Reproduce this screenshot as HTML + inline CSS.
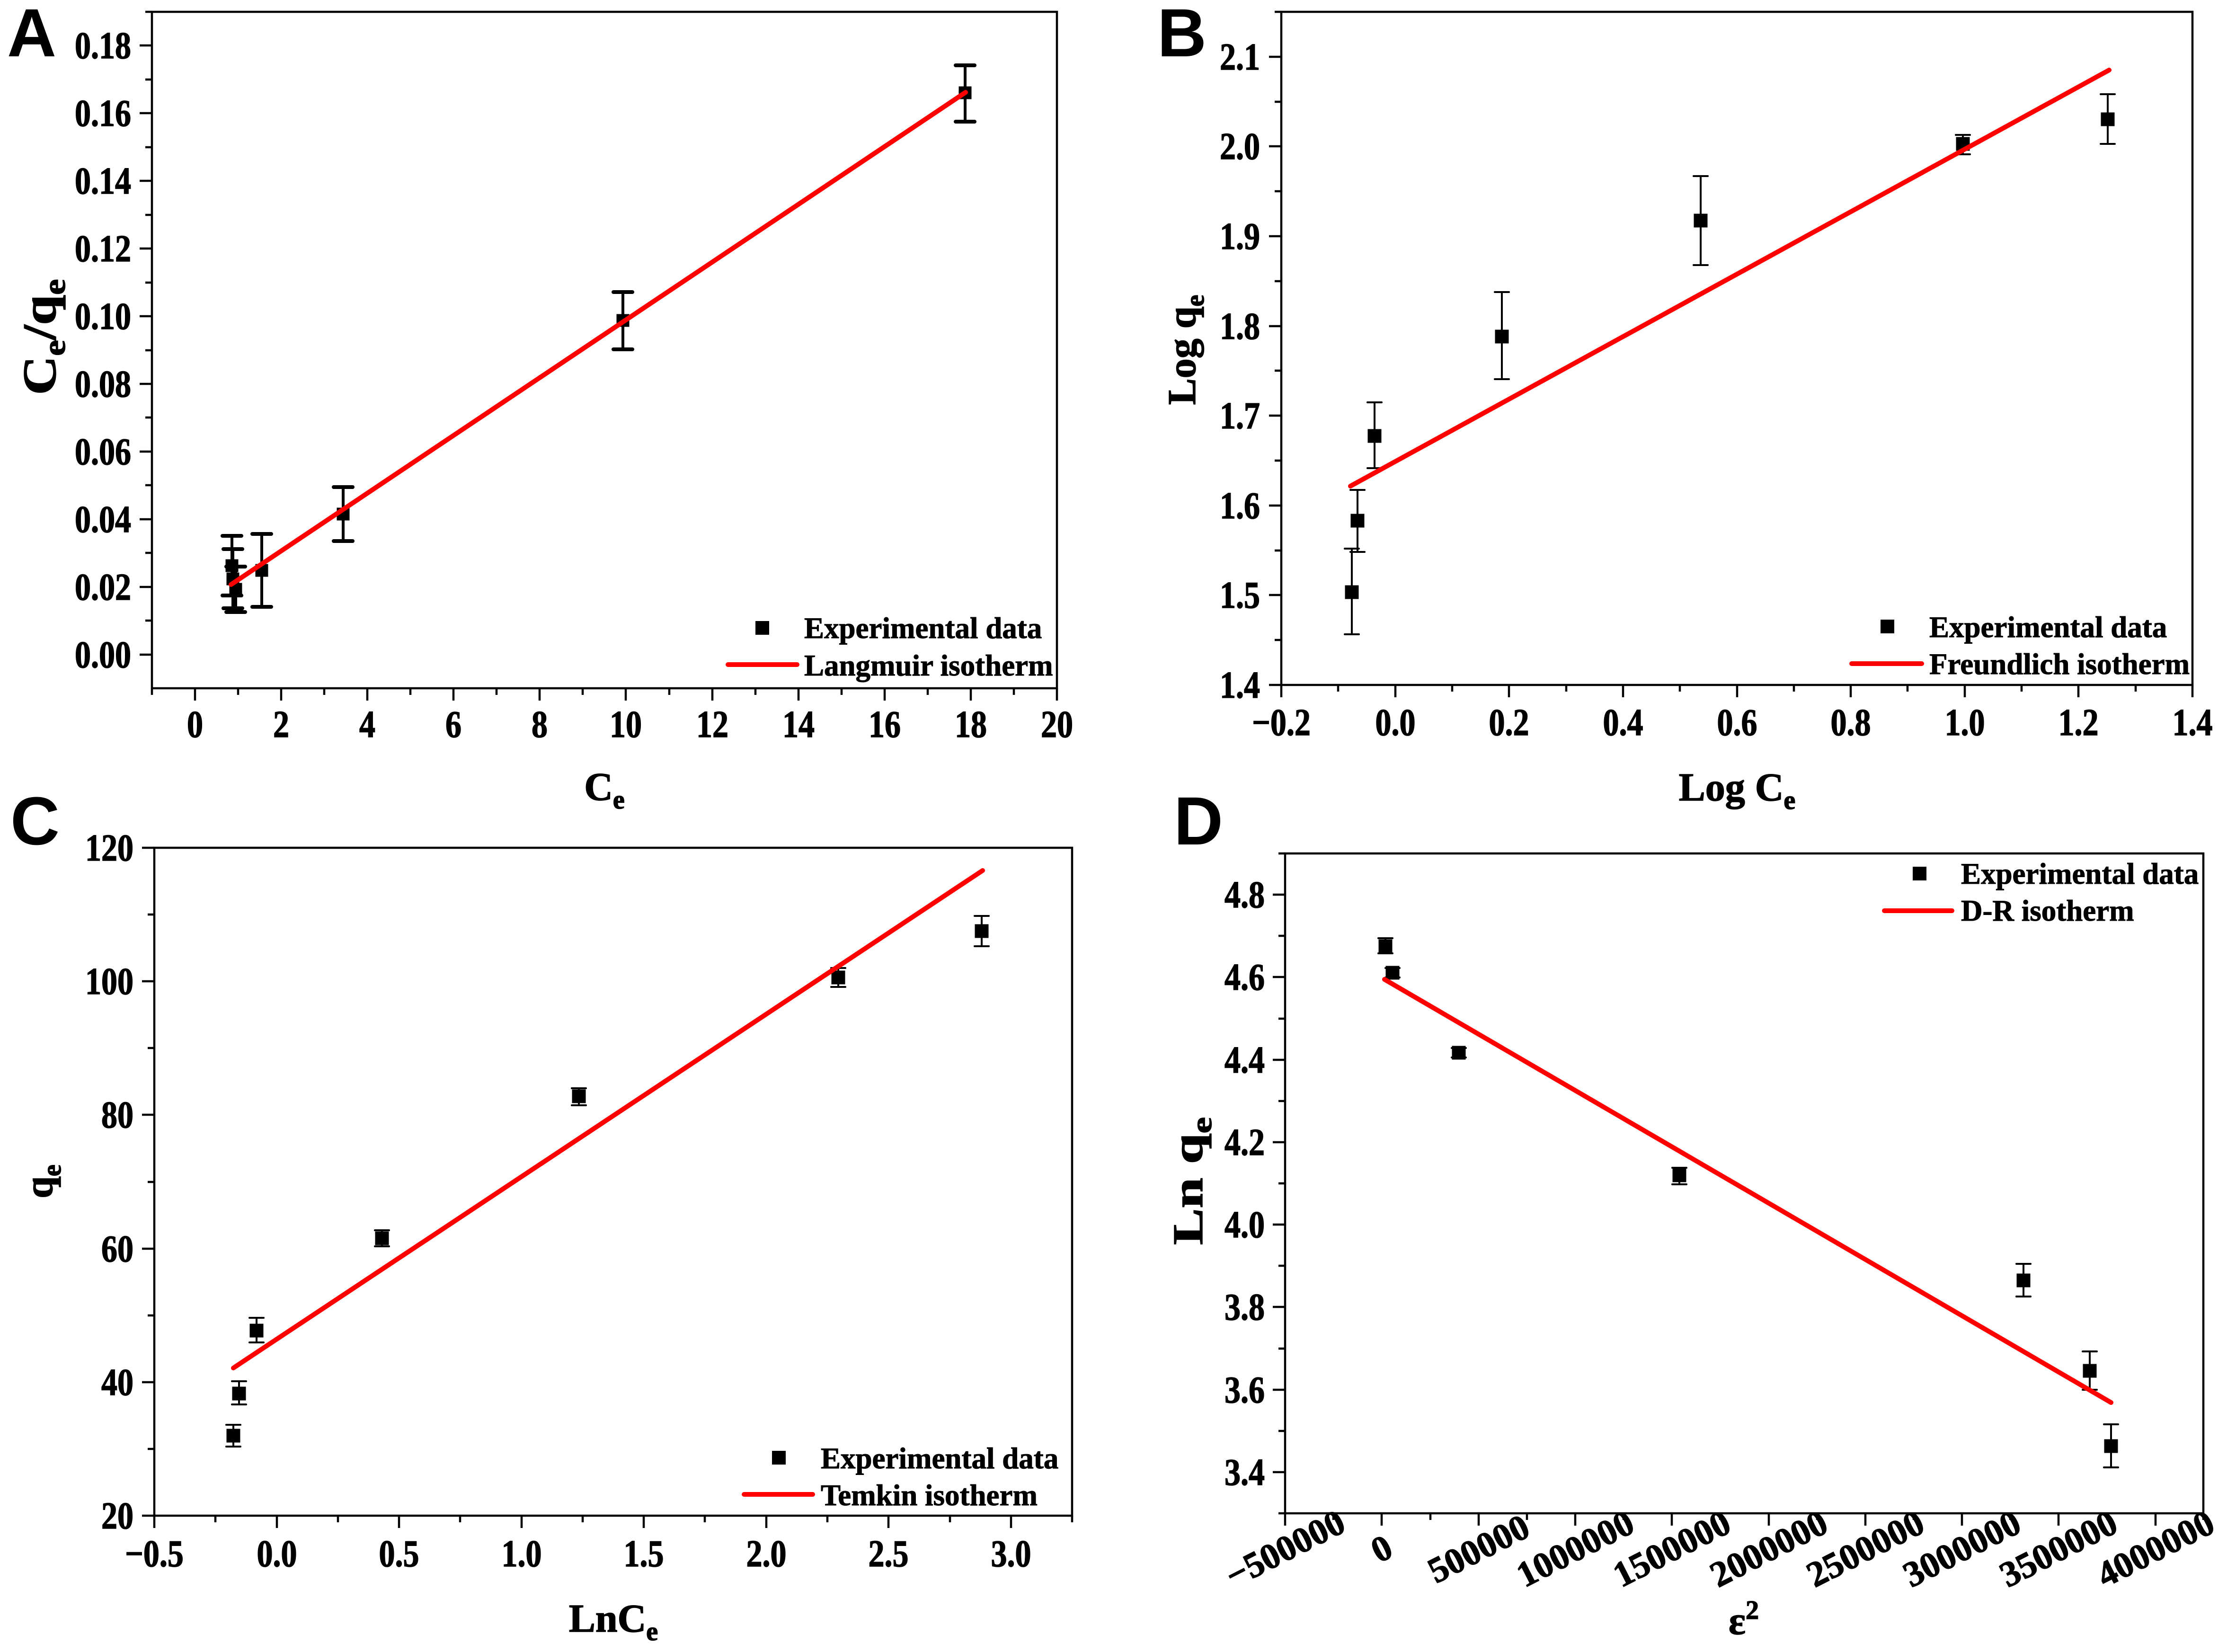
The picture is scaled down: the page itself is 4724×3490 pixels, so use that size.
<!DOCTYPE html>
<html>
<head>
<meta charset="utf-8">
<style>
html,body{margin:0;padding:0;background:#fff;}
svg{display:block;}
text{font-family:"Liberation Serif",serif;font-weight:bold;fill:#000;}
.pl{font-family:"Liberation Sans",sans-serif;font-weight:bold;font-size:144px;}
.xl{font-size:80px;text-anchor:middle;transform-box:fill-box;transform-origin:center;transform:scaleX(0.85);stroke:#000;stroke-width:1.5px;}
.yl{font-size:80px;text-anchor:end;transform-box:fill-box;transform-origin:right;transform:scaleX(0.85);stroke:#000;stroke-width:1.5px;}
.rl{font-size:76px;text-anchor:middle;dominant-baseline:central;stroke:#000;stroke-width:1.5px;}
.lg{font-size:63px;stroke:#000;stroke-width:1px;}
.at{font-size:84px;stroke:#000;stroke-width:1.5px;}
</style>
</head>
<body>
<svg width="4724" height="3490" viewBox="0 0 4724 3490" xmlns="http://www.w3.org/2000/svg">
<rect x="0" y="0" width="4724" height="3490" fill="#fff"/>

<!-- Panel labels -->
<text class="pl" x="15" y="119">A</text>
<text class="pl" x="2445" y="119">B</text>
<text class="pl" x="22" y="1784">C</text>
<text class="pl" x="2480" y="1784">D</text>

<!-- ================= PANEL A ================= -->
<g fill="none" stroke="#000" stroke-width="4.5">
<rect x="321" y="25" width="1912" height="1429"/>
<path d="M295 1383H321M295 1240H321M295 1097H321M295 954H321M295 811H321M295 668H321M295 525H321M295 382H321M295 239H321M295 96H321
M307 1311H321M307 1168H321M307 1025H321M307 882H321M307 740H321M307 597H321M307 454H321M307 311H321M307 168H321M307 25H321
M412 1454V1480M594 1454V1480M776 1454V1480M958 1454V1480M1140 1454V1480M1322 1454V1480M1505 1454V1480M1687 1454V1480M1869 1454V1480M2051 1454V1480M2233 1454V1480
M321 1454V1468M503 1454V1468M685 1454V1468M867 1454V1468M1049 1454V1468M1231 1454V1468M1414 1454V1468M1596 1454V1468M1778 1454V1468M1960 1454V1468M2142 1454V1468"/>
</g>
<text class="yl" x="277" y="123">0.18</text>
<text class="yl" x="277" y="266">0.16</text>
<text class="yl" x="277" y="409">0.14</text>
<text class="yl" x="277" y="552">0.12</text>
<text class="yl" x="277" y="695">0.10</text>
<text class="yl" x="277" y="838">0.08</text>
<text class="yl" x="277" y="981">0.06</text>
<text class="yl" x="277" y="1124">0.04</text>
<text class="yl" x="277" y="1267">0.02</text>
<text class="yl" x="277" y="1410">0.00</text>
<text class="xl" x="412" y="1557">0</text>
<text class="xl" x="594" y="1557">2</text>
<text class="xl" x="776" y="1557">4</text>
<text class="xl" x="958" y="1557">6</text>
<text class="xl" x="1140" y="1557">8</text>
<text class="xl" x="1322" y="1557">10</text>
<text class="xl" x="1505" y="1557">12</text>
<text class="xl" x="1687" y="1557">14</text>
<text class="xl" x="1869" y="1557">16</text>
<text class="xl" x="2051" y="1557">18</text>
<text class="xl" x="2233" y="1557">20</text>
<!-- axis titles A -->
<text class="at" x="1277" y="1690" text-anchor="middle">C<tspan font-size="56" dy="18">e</tspan></text>
<text font-size="100" stroke="#000" stroke-width="1.5" transform="translate(117,712) rotate(-90)" text-anchor="middle" textLength="245" lengthAdjust="spacingAndGlyphs">C<tspan font-size="66" dy="20">e</tspan><tspan dy="-20">/q</tspan><tspan font-size="66" dy="20">e</tspan></text>
<!-- error bars A -->
<g fill="none" stroke="#000" stroke-linecap="round">
<path stroke-width="6" d="M490 1132V1258M492 1160V1285M498 1197V1293M553 1128V1282M725 1029V1143M1316 617V738M2039 138V257"/>
<path stroke-width="8" d="M470 1132H510M470 1258H510
M472 1160H512M472 1285H512
M478 1197H518M478 1293H518
M533 1128H573M533 1282H573
M705 1029H745M705 1143H745
M1296 617H1336M1296 738H1336
M2019 138H2059M2019 257H2059"/>
</g>
<g fill="#000">
<rect x="476.5" y="1181.5" width="27" height="27"/>
<rect x="478.5" y="1209.5" width="27" height="27"/>
<rect x="484.5" y="1231.5" width="27" height="27"/>
<rect x="539.5" y="1191.5" width="27" height="27"/>
<rect x="711.5" y="1072.5" width="27" height="27"/>
<rect x="1302.5" y="663.5" width="27" height="27"/>
<rect x="2025.5" y="182.5" width="27" height="27"/>
</g>
<line x1="488" y1="1235" x2="2040" y2="195" stroke="#ff0000" stroke-width="10" stroke-linecap="round"/>
<!-- legend A -->
<rect x="1596" y="1312" width="29" height="29" fill="#000"/>
<text class="lg" x="1699" y="1348">Experimental data</text>
<line x1="1538" y1="1404" x2="1684" y2="1404" stroke="#ff0000" stroke-width="10" stroke-linecap="round"/>
<text class="lg" x="1699" y="1427">Langmuir isotherm</text>

<!-- ================= PANEL B ================= -->
<g fill="none" stroke="#000" stroke-width="4.5">
<rect x="2707" y="25" width="1925" height="1422"/>
<path d="M2681 1447H2707M2681 1257H2707M2681 1068H2707M2681 878H2707M2681 689H2707M2681 499H2707M2681 309H2707M2681 120H2707
M2693 1352H2707M2693 1163H2707M2693 973H2707M2693 783H2707M2693 594H2707M2693 404H2707M2693 215H2707M2693 25H2707
M2707 1447V1473M2948 1447V1473M3188 1447V1473M3429 1447V1473M3670 1447V1473M3910 1447V1473M4151 1447V1473M4391 1447V1473M4632 1447V1473
M2827 1447V1461M3068 1447V1461M3309 1447V1461M3549 1447V1461M3790 1447V1461M4030 1447V1461M4271 1447V1461M4512 1447V1461"/>
</g>
<text class="yl" x="2662" y="147">2.1</text>
<text class="yl" x="2662" y="336">2.0</text>
<text class="yl" x="2662" y="526">1.9</text>
<text class="yl" x="2662" y="716">1.8</text>
<text class="yl" x="2662" y="905">1.7</text>
<text class="yl" x="2662" y="1095">1.6</text>
<text class="yl" x="2662" y="1284">1.5</text>
<text class="yl" x="2662" y="1474">1.4</text>
<text class="xl" x="2707" y="1553">−0.2</text>
<text class="xl" x="2948" y="1553">0.0</text>
<text class="xl" x="3188" y="1553">0.2</text>
<text class="xl" x="3429" y="1553">0.4</text>
<text class="xl" x="3670" y="1553">0.6</text>
<text class="xl" x="3910" y="1553">0.8</text>
<text class="xl" x="4151" y="1553">1.0</text>
<text class="xl" x="4391" y="1553">1.2</text>
<text class="xl" x="4632" y="1553">1.4</text>
<text class="at" x="3670" y="1691" text-anchor="middle">Log C<tspan font-size="56" dy="18">e</tspan></text>
<text class="at" transform="translate(2525,739) rotate(-90)" text-anchor="middle">Log q<tspan font-size="56" dy="18">e</tspan></text>
<g fill="none" stroke="#000" stroke-width="4" stroke-linecap="round">
<path d="M2856 1159V1340M2841 1159H2871M2841 1340H2871
M2868 1035V1166M2853 1035H2883M2853 1166H2883
M2904 850V989M2889 850H2919M2889 989H2919
M3173 617V801M3158 617H3188M3158 801H3188
M3593 372V560M3578 372H3608M3578 560H3608
M4147 285V326M4132 285H4162M4132 326H4162
M4453 199V304M4438 199H4468M4438 304H4468"/>
</g>
<g fill="#000">
<rect x="2841.5" y="1236.5" width="29" height="29"/>
<rect x="2853.5" y="1085.5" width="29" height="29"/>
<rect x="2889.5" y="906.5" width="29" height="29"/>
<rect x="3158.5" y="696.5" width="29" height="29"/>
<rect x="3578.5" y="451.5" width="29" height="29"/>
<rect x="4132.5" y="289.5" width="29" height="29"/>
<rect x="4438.5" y="237.5" width="29" height="29"/>
</g>
<line x1="2853" y1="1027" x2="4456" y2="148" stroke="#ff0000" stroke-width="10" stroke-linecap="round"/>
<rect x="3973" y="1309" width="29" height="29" fill="#000"/>
<text class="lg" x="4076" y="1346">Experimental data</text>
<line x1="3912" y1="1402" x2="4060" y2="1402" stroke="#ff0000" stroke-width="10" stroke-linecap="round"/>
<text class="lg" x="4076" y="1424">Freundlich isotherm</text>

<!-- ================= PANEL C ================= -->
<g fill="none" stroke="#000" stroke-width="4.5">
<rect x="326" y="1791" width="1939" height="1411"/>
<path d="M300 3202H326M300 2920H326M300 2638H326M300 2355H326M300 2073H326M300 1791H326
M312 3061H326M312 2779H326M312 2497H326M312 2214H326M312 1932H326
M326 3202V3228M585 3202V3228M843 3202V3228M1102 3202V3228M1360 3202V3228M1619 3202V3228M1877 3202V3228M2136 3202V3228
M455 3202V3216M714 3202V3216M972 3202V3216M1231 3202V3216M1489 3202V3216M1748 3202V3216M2007 3202V3216M2265 3202V3216"/>
</g>
<text class="yl" x="282" y="1818">120</text>
<text class="yl" x="282" y="2100">100</text>
<text class="yl" x="282" y="2382">80</text>
<text class="yl" x="282" y="2665">60</text>
<text class="yl" x="282" y="2947">40</text>
<text class="yl" x="282" y="3229">20</text>
<text class="xl" x="326" y="3309">−0.5</text>
<text class="xl" x="585" y="3309">0.0</text>
<text class="xl" x="843" y="3309">0.5</text>
<text class="xl" x="1102" y="3309">1.0</text>
<text class="xl" x="1360" y="3309">1.5</text>
<text class="xl" x="1619" y="3309">2.0</text>
<text class="xl" x="1877" y="3309">2.5</text>
<text class="xl" x="2136" y="3309">3.0</text>
<text class="at" x="1296" y="3447" text-anchor="middle">LnC<tspan font-size="56" dy="18">e</tspan></text>
<text class="at" transform="translate(110,2496) rotate(-90)" text-anchor="middle">q<tspan font-size="56" dy="18">e</tspan></text>
<g fill="none" stroke="#000" stroke-width="4" stroke-linecap="round">
<path d="M493 3010V3056M478 3010H508M478 3056H508
M505 2918V2967M490 2918H520M490 2967H520
M542 2784V2836M527 2784H557M527 2836H557
M807 2599V2633M792 2599H822M792 2633H822
M1223 2299V2335M1208 2299H1238M1208 2335H1238
M1771 2045V2085M1756 2045H1786M1756 2085H1786
M2074 1935V1999M2059 1935H2089M2059 1999H2089"/>
</g>
<g fill="#000">
<rect x="478.5" y="3018.5" width="29" height="29"/>
<rect x="490.5" y="2929.5" width="29" height="29"/>
<rect x="527.5" y="2796.5" width="29" height="29"/>
<rect x="792.5" y="2601.5" width="29" height="29"/>
<rect x="1208.5" y="2301.5" width="29" height="29"/>
<rect x="1756.5" y="2050.5" width="29" height="29"/>
<rect x="2059.5" y="1952.5" width="29" height="29"/>
</g>
<line x1="493" y1="2890" x2="2076" y2="1839" stroke="#ff0000" stroke-width="10" stroke-linecap="round"/>
<rect x="1631" y="3065" width="29" height="29" fill="#000"/>
<text class="lg" x="1734" y="3102">Experimental data</text>
<line x1="1572" y1="3157" x2="1717" y2="3157" stroke="#ff0000" stroke-width="10" stroke-linecap="round"/>
<text class="lg" x="1734" y="3180">Temkin isotherm</text>

<!-- ================= PANEL D ================= -->
<g fill="none" stroke="#000" stroke-width="4.5">
<rect x="2715" y="1803" width="1940" height="1394"/>
<path d="M2689 3110H2715M2689 2936H2715M2689 2761H2715M2689 2587H2715M2689 2413H2715M2689 2239H2715M2689 2064H2715M2689 1890H2715
M2701 3197H2715M2701 3023H2715M2701 2849H2715M2701 2674H2715M2701 2500H2715M2701 2326H2715M2701 2152H2715M2701 1977H2715M2701 1803H2715
M2715 3197V3223M2919 3197V3223M3124 3197V3223M3328 3197V3223M3532 3197V3223M3737 3197V3223M3941 3197V3223M4145 3197V3223M4349 3197V3223M4554 3197V3223
M2817 3197V3211M3022 3197V3211M3226 3197V3211M3430 3197V3211M3634 3197V3211M3839 3197V3211M4043 3197V3211M4247 3197V3211M4452 3197V3211M4655 3197V3211"/>
</g>
<text class="yl" x="2672" y="1917">4.8</text>
<text class="yl" x="2672" y="2091">4.6</text>
<text class="yl" x="2672" y="2266">4.4</text>
<text class="yl" x="2672" y="2440">4.2</text>
<text class="yl" x="2672" y="2614">4.0</text>
<text class="yl" x="2672" y="2788">3.8</text>
<text class="yl" x="2672" y="2963">3.6</text>
<text class="yl" x="2672" y="3137">3.4</text>
<text class="rl" x="2715" y="3272" transform="rotate(-27 2715 3272)">−500000</text>
<text class="rl" x="2919" y="3272" transform="rotate(-27 2919 3272)">0</text>
<text class="rl" x="3124" y="3272" transform="rotate(-27 3124 3272)">500000</text>
<text class="rl" x="3328" y="3272" transform="rotate(-27 3328 3272)">1000000</text>
<text class="rl" x="3532" y="3272" transform="rotate(-27 3532 3272)">1500000</text>
<text class="rl" x="3737" y="3272" transform="rotate(-27 3737 3272)">2000000</text>
<text class="rl" x="3941" y="3272" transform="rotate(-27 3941 3272)">2500000</text>
<text class="rl" x="4145" y="3272" transform="rotate(-27 4145 3272)">3000000</text>
<text class="rl" x="4349" y="3272" transform="rotate(-27 4349 3272)">3500000</text>
<text class="rl" x="4554" y="3272" transform="rotate(-27 4554 3272)">4000000</text>
<text class="at" x="3684" y="3452" text-anchor="middle">ε<tspan font-size="56" dy="-32">2</tspan></text>
<text font-size="90" stroke="#000" stroke-width="1.5" transform="translate(2540,2495) rotate(-90)" text-anchor="middle" textLength="270" lengthAdjust="spacingAndGlyphs">Ln q<tspan font-size="60" dy="19">e</tspan></text>
<g fill="none" stroke="#000" stroke-width="4" stroke-linecap="round">
<path d="M2927 1982V2014M2912 1982H2942M2912 2014H2942
M2942 2045V2065M2927 2045H2957M2927 2065H2957
M3082 2214V2234M3067 2214H3097M3067 2234H3097
M3548 2467V2502M3533 2467H3563M3533 2502H3563
M4275 2670V2739M4260 2670H4290M4260 2739H4290
M4415 2855V2936M4400 2855H4430M4400 2936H4430
M4460 3009V3100M4445 3009H4475M4445 3100H4475"/>
</g>
<g fill="#000">
<rect x="2912.5" y="1984.5" width="29" height="29"/>
<rect x="2927.5" y="2040.5" width="29" height="29"/>
<rect x="3067.5" y="2209.5" width="29" height="29"/>
<rect x="3533.5" y="2468.5" width="29" height="29"/>
<rect x="4260.5" y="2690.5" width="29" height="29"/>
<rect x="4400.5" y="2881.5" width="29" height="29"/>
<rect x="4445.5" y="3040.5" width="29" height="29"/>
</g>
<line x1="2925" y1="2069" x2="4460" y2="2963" stroke="#ff0000" stroke-width="10" stroke-linecap="round"/>
<rect x="4041" y="1831" width="29" height="29" fill="#000"/>
<text class="lg" x="4143" y="1867">Experimental data</text>
<line x1="3981" y1="1924" x2="4124" y2="1924" stroke="#ff0000" stroke-width="10" stroke-linecap="round"/>
<text class="lg" x="4143" y="1945">D-R isotherm</text>
</svg>
</body>
</html>
